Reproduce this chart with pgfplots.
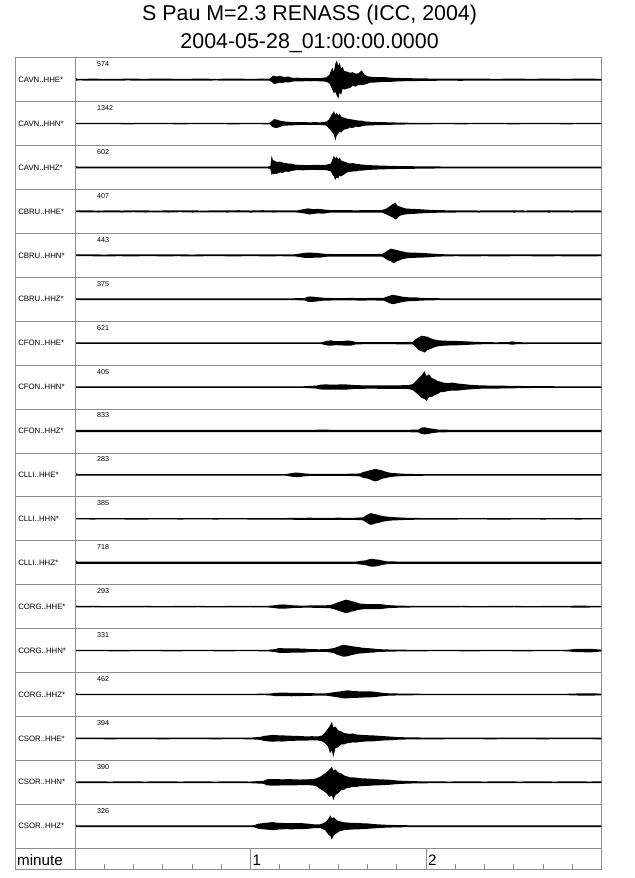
\documentclass[border=0pt]{standalone}
\usepackage{fontspec}
\setmainfont{Liberation Sans}
\usepackage{pgfplots}
\pgfplotsset{compat=1.18}
\usepackage{pgfplotstable}
\usepgfplotslibrary{fillbetween}

% t = time (s), u = upward half-amplitude (px), l = downward half-amplitude (px)
\pgfplotstableread[row sep=\\]{t u l\\
0 1.8 1.2\\ 1 0.8 0.8\\ 6 1.0 0.9\\ 12 0.8 1.0\\ 18 1.0 0.8\\ 24 0.9 1.0\\ 30 1.1 0.9\\ 36 0.8 0.9\\ 42 1.0 1.0\\ 48 0.9 0.8\\ 54 1.0 1.0\\ 60 0.9 0.9\\ 66.5 1.0 0.9\\
67.5 3.5 3\\ 68 4 4.5\\ 69 3.2 3.8\\ 70 3.8 3\\ 71 3 3.4\\ 72 2.8 2.5\\ 73 3.2 2.8\\ 74 2 2.2\\ 75 1.8 1.6\\ 76 2 1.8\\ 77.5 1.6 1.7\\ 79 1.8 1.5\\ 80.5 1.5 1.6\\ 82 1.7 1.5\\ 83.5 1.5 1.6\\ 85 2 1.8\\ 86 2.5 2.2\\
87 5 4\\ 87.5 9 7\\ 88 12 10\\ 88.5 8 14\\ 89 16 12\\ 89.5 19.5 16\\ 90 14 19\\ 90.5 17 13\\ 91 11 15\\ 91.5 13 9\\ 92 9 10\\ 93 8 9\\ 94 7 8.5\\ 95 7.5 6\\ 96 6 7\\ 97 6.5 5\\ 98 9.5 5.5\\ 99 5 5\\ 100 3.5 4\\ 101 3 3\\ 102 2.8 3\\ 104 2.5 2.5\\ 106 2.5 2.2\\ 108 2 2.2\\ 110 1.8 1.8\\ 113 1.6 1.5\\ 116 1.4 1.4\\ 120 1.2 1.2\\ 126 1.1 1\\ 132 1 1.1\\ 138 1 0.9\\ 144 0.9 1\\ 150 1 0.9\\ 156 0.9 0.9\\ 162 1 1\\ 168 0.9 0.9\\ 174 1 0.9\\ 180 0.9 1\\
}\tA
\pgfplotstableread[row sep=\\]{t u l\\
0 0.7 0.6\\ 6 0.6 0.6\\ 12 0.7 0.6\\ 18 0.6 0.7\\ 24 0.7 0.6\\ 30 0.6 0.6\\ 36 0.7 0.7\\ 42 0.6 0.6\\ 48 0.7 0.6\\ 54 0.6 0.7\\ 60 0.7 0.6\\ 66.5 0.7 0.7\\
67.5 3 3.5\\ 68 4.5 4\\ 69 4 4.5\\ 70 3 3.5\\ 71 2.5 2.2\\ 72 2 2\\ 74 1.6 1.8\\ 76 1.4 1.5\\ 78 1.5 1.3\\ 80 1.3 1.4\\ 82 1.4 1.3\\ 84 1.3 1.4\\ 86 2 2\\
86.8 4 5\\ 87.5 8 7\\ 88 10 9\\ 88.5 12.5 11\\ 89 9 17\\ 89.5 11 12\\ 90 8 10\\ 90.5 10 8\\ 91 7 9\\ 92 6 6\\ 93 5 5.5\\ 94 4.5 4\\ 95 4 4.5\\ 96 3.5 3\\ 97 3 3.5\\ 98 3 2.8\\ 99 2.2 2.2\\ 101 1.8 1.8\\ 103 1.6 1.6\\ 105 1.5 1.4\\ 108 1.2 1.2\\ 111 1 1\\ 115 0.8 0.8\\ 120 0.7 0.7\\ 126 0.7 0.6\\ 132 0.6 0.7\\ 138 0.7 0.6\\ 144 0.6 0.6\\ 150 0.7 0.7\\ 156 0.6 0.6\\ 162 0.7 0.6\\ 168 0.6 0.7\\ 174 0.7 0.6\\ 180 0.6 0.6\\
}\tB
\pgfplotstableread[row sep=\\]{t u l\\
0 1.5 1\\ 1 0.9 0.9\\ 6 1 0.9\\ 12 0.9 1\\ 18 1 0.9\\ 24 0.9 0.9\\ 30 1 1\\ 36 0.9 0.9\\ 42 1 0.9\\ 48 0.9 1\\ 54 1 0.9\\ 60 0.9 0.9\\ 66 1 1\\
66.8 1.5 1.5\\ 67.2 12 7.5\\ 67.6 8 6\\ 68 7 7\\ 68.5 6.5 6\\ 69 5.5 6.5\\ 70 6 5\\ 71 5 5.5\\ 72 4.5 4\\ 73 4 4.5\\ 74 4 3.5\\ 75 3 3\\ 76 2.8 2.6\\ 78 2.6 2.8\\ 80 2.4 2.5\\ 82 2.7 2.4\\ 84 2.5 2.6\\ 86 2.8 2.7\\ 87.5 4 4\\
88 8 7\\ 88.5 12 9\\ 89 9 12.5\\ 89.5 11 10\\ 90 8 11\\ 90.5 10 8\\ 91 7 9\\ 92 6 7\\ 93 5 5\\ 94 4 4.5\\ 95 4.5 4\\ 96 3.8 4\\ 97 3.5 3.2\\ 98 3 3.2\\ 100 2.6 2.5\\ 102 2.2 2.2\\ 104 2 1.9\\ 107 1.7 1.7\\ 110 1.5 1.5\\ 115 1.3 1.3\\ 120 1.1 1.1\\ 126 1 0.9\\ 132 0.9 1\\ 138 1 0.9\\ 144 0.9 0.9\\ 150 1 1\\ 156 0.9 0.9\\ 162 1 0.9\\ 168 0.9 1\\ 174 1 0.9\\ 180 0.9 0.9\\
}\tC
\pgfplotstableread[row sep=\\]{t u l\\
0 0.9 0.8\\ 4 1.1 0.9\\ 8 0.8 1.1\\ 12 1.1 0.9\\ 16 0.9 1.1\\ 20 1.1 0.8\\ 24 1 1.1\\ 28 0.8 1\\ 32 1.1 1.1\\ 36 1 0.8\\ 40 1.1 1.1\\ 44 0.8 1\\ 48 1.1 0.9\\ 52 1 1.1\\ 56 1.2 1\\ 60 0.9 1.1\\ 64 1.2 1\\ 68 1 1.1\\ 72 1.1 0.9\\ 76 1 1.1\\
78.5 2.5 2\\ 79.5 3 2.8\\ 80.5 2.8 3\\ 81.5 2.2 2.5\\ 83 2.6 2\\ 85 2 2.2\\ 87 1.4 1.3\\ 90 1.2 1.3\\ 93 1.3 1.1\\ 96 1.1 1.2\\ 99 1.3 1.1\\ 102 1.2 1.3\\ 105 1.4 1.3\\
106.5 3 3\\ 107.5 5 4.5\\ 108.5 7 6\\ 109.5 8.8 8\\ 110.2 6 7\\ 111 5 4.5\\ 112 4 3.5\\ 113 3 3\\ 114.5 2.7 2.5\\ 116 2.5 2.4\\ 118 2.2 2\\ 120 1.8 1.7\\ 123 1.4 1.4\\ 126 1.2 1.1\\ 130 1 1.1\\ 134 1.1 0.9\\ 138 0.9 1.1\\ 142 1.1 1\\ 146 1 0.9\\ 150 1.1 1.1\\ 154 0.9 1\\ 158 1.1 0.9\\ 162 1 1.1\\ 166 1.1 1\\ 170 0.9 1.1\\ 174 1.1 0.9\\ 178 1 1\\ 180 0.9 0.9\\
}\tD
\pgfplotstableread[row sep=\\]{t u l\\
0 0.9 0.8\\ 5 1 0.9\\ 10 0.8 1\\ 15 1 0.9\\ 20 0.9 1\\ 25 1 0.8\\ 30 0.9 1\\ 35 1 0.9\\ 40 0.8 1\\ 45 1 0.9\\ 50 0.9 0.9\\ 55 1 1\\ 60 0.9 0.8\\ 65 1 1\\ 70 0.9 0.9\\ 75 1 1\\
78.5 2.5 2.5\\ 80 2.8 2.7\\ 82 2.5 2.3\\ 84 2 2.2\\ 86 1.4 1.4\\ 90 1.2 1.2\\ 94 1.3 1.2\\ 98 1.2 1.3\\ 102 1.3 1.2\\ 105 1.5 1.4\\
106 3 3\\ 107 5 5\\ 108 6.8 6\\ 109 6 8\\ 110 5.5 6\\ 111 4.5 5\\ 112 4 3.8\\ 113.5 3 3\\ 115 2.7 2.6\\ 117 2.6 2.4\\ 119 2.3 2.2\\ 121 2 2\\ 123 1.5 1.4\\ 126 1.1 1.1\\ 130 1 0.9\\ 135 0.9 1\\ 140 1 0.9\\ 145 0.9 1\\ 150 1 0.9\\ 155 0.9 0.9\\ 160 1 1\\ 165 0.9 0.9\\ 170 1 1\\ 175 0.9 1\\ 180 1 0.9\\
}\tE
\pgfplotstableread[row sep=\\]{t u l\\
0 0.9 0.9\\ 5 1 0.8\\ 10 0.8 1\\ 15 1 0.9\\ 20 0.9 1\\ 25 1 0.9\\ 30 0.8 0.9\\ 35 1 1\\ 40 0.9 0.8\\ 45 1 1\\ 50 0.9 0.9\\ 55 1 0.9\\ 60 0.9 1\\ 65 1 0.9\\ 70 0.9 1\\ 75 1 0.9\\
78.5 1.2 1.2\\ 79.5 2.5 2.5\\ 80.5 2.8 2.6\\ 82 2.4 2.5\\ 84 1.8 1.6\\ 86 1.3 1.3\\ 90 1.2 1.2\\ 94 1.3 1.2\\ 98 1.2 1.3\\ 102 1.3 1.2\\ 105.5 1.4 1.4\\
106.5 2.5 2.5\\ 107.5 3.5 4\\ 108.5 4.4 5\\ 109.5 4 4.5\\ 110.5 3.5 3.8\\ 112 2.5 2.8\\ 114 2 2\\ 116 2 1.9\\ 118 1.5 1.4\\ 121 1.1 1.1\\ 125 1 0.9\\ 130 0.9 1\\ 135 1 0.9\\ 140 0.9 0.9\\ 145 1 1\\ 150 0.9 0.9\\ 155 1 0.9\\ 160 0.9 1\\ 165 1 0.9\\ 170 0.9 1\\ 175 1 0.9\\ 180 0.9 0.9\\
}\tF
\pgfplotstableread[row sep=\\]{t u l\\
0 0.8 0.7\\ 6 0.8 0.8\\ 12 0.7 0.8\\ 18 0.8 0.7\\ 24 0.8 0.8\\ 30 0.7 0.8\\ 36 0.8 0.7\\ 42 0.8 0.8\\ 48 0.7 0.7\\ 54 0.8 0.8\\ 60 0.7 0.8\\ 66 0.8 0.7\\ 72 0.8 0.8\\ 78 0.7 0.8\\ 84 0.8 0.8\\
86.5 2.5 2.5\\ 87.5 2.8 2.6\\ 89 2 2\\ 91 2 2.2\\ 93 2.7 2.6\\ 94.5 2.3 2.4\\ 96 1.2 1.2\\ 100 1 1\\ 105 1.1 1\\ 110 1 1.1\\ 115.5 1.3 1.3\\
116.5 4 4\\ 117.5 6 7\\ 118.5 7.5 8\\ 119.5 7 9.5\\ 120.5 6.5 7\\ 121.5 5 6\\ 122.5 4 4.5\\ 124 3 3.2\\ 126 2.5 2.6\\ 128 2.4 2.3\\ 130 2.3 2.2\\ 132 2 2\\ 134 1.8 1.7\\ 137 1.3 1.3\\ 140 1 1\\ 144 0.9 0.9\\ 148 1 1\\ 149.5 1.8 1.6\\ 151 1 1\\ 156 0.8 0.8\\ 162 0.7 0.8\\ 168 0.8 0.7\\ 174 0.8 0.8\\ 180 0.7 0.7\\
}\tG
\pgfplotstableread[row sep=\\]{t u l\\
0 0.8 0.8\\ 6 0.7 0.8\\ 12 0.8 0.7\\ 18 0.8 0.8\\ 24 0.7 0.8\\ 30 0.8 0.7\\ 36 0.8 0.8\\ 42 0.7 0.7\\ 48 0.8 0.8\\ 54 0.8 0.7\\ 60 0.7 0.8\\ 66 0.8 0.8\\ 72 0.8 0.7\\ 78 0.8 0.8\\
82.5 1.5 1.5\\ 84 2.5 2.4\\ 86 2.7 2.6\\ 88 2.4 2.5\\ 90 2.6 2.5\\ 92 2.8 2.7\\ 94 2.4 2.3\\ 96 2 1.9\\ 99 1.7 1.7\\ 102 1.8 1.6\\ 105 1.7 1.8\\ 108 1.6 1.7\\ 111 1.8 1.7\\ 114 2 2\\
115.5 3 3\\ 116.5 6 5.5\\ 117.5 9 8\\ 118.5 12 11\\ 119.5 16 12\\ 120.2 11 14\\ 121 13 10\\ 122 9 10\\ 123 8 8\\ 124 6 7\\ 125 5.5 5\\ 126 4.5 5\\ 127.5 4 4\\ 129 4.5 3.5\\ 131 3.5 3.5\\ 133 3 2.8\\ 135 2.3 2.3\\ 138 1.8 1.7\\ 142 1.5 1.6\\ 146 1.4 1.4\\ 150 1.2 1.2\\ 155 1 1\\ 160 0.9 0.8\\ 166 0.8 0.8\\ 172 0.7 0.8\\ 180 0.8 0.7\\
}\tH
\pgfplotstableread[row sep=\\]{t u l\\
0 1.2 1.1\\ 6 1.2 1.2\\ 12 1.1 1.2\\ 18 1.2 1.1\\ 24 1.2 1.2\\ 30 1.1 1.2\\ 36 1.2 1.1\\ 42 1.2 1.2\\ 48 1.1 1.1\\ 54 1.2 1.2\\ 60 1.1 1.2\\ 66 1.2 1.1\\ 72 1.2 1.2\\ 78 1.1 1.2\\ 84 1.3 1.2\\ 90 1.2 1.2\\ 96 1.2 1.1\\ 102 1.2 1.2\\ 108 1.1 1.2\\ 114 1.2 1.2\\
117.5 1.5 1.5\\ 118.5 3.4 3\\ 119.5 3.8 3.4\\ 120.5 3 3.2\\ 122 2.4 2.2\\ 124 1.5 1.5\\ 128 1.2 1.2\\ 134 1.1 1.2\\ 140 1.2 1.1\\ 146 1.2 1.2\\ 152 1.1 1.2\\ 158 1.2 1.1\\ 164 1.2 1.2\\ 170 1.1 1.2\\ 176 1.2 1.1\\ 180 1.2 1.2\\
}\tI
\pgfplotstableread[row sep=\\]{t u l\\
0 2 0.8\\ 1 0.8 0.8\\ 6 0.7 0.8\\ 12 0.8 0.7\\ 18 0.8 0.8\\ 24 0.7 0.8\\ 30 0.8 0.7\\ 36 0.8 0.8\\ 42 0.7 0.7\\ 48 0.8 0.8\\ 54 0.8 0.7\\ 60 0.7 0.8\\ 66 0.8 0.8\\ 72 0.8 0.7\\
74.5 2 2\\ 75.5 2.4 2.2\\ 77 2 2\\ 78.5 1.5 1.4\\ 80 1.1 1.1\\ 85 1 1\\ 90 1.1 1\\ 95 1.2 1.1\\ 97.5 1.5 1.5\\
98.5 3 3\\ 99.5 3.5 3.5\\ 100.5 4.5 4\\ 101.5 5 5.5\\ 102.5 6 6.5\\ 103.5 5.5 6\\ 104.5 5 4.5\\ 105.5 4 3.5\\ 106.5 3 3\\ 108 2 2\\ 110 1.6 1.5\\ 112 1.2 1.2\\ 116 0.9 0.9\\ 122 0.8 0.8\\ 128 0.7 0.8\\ 134 0.8 0.7\\ 140 0.8 0.8\\ 146 0.7 0.8\\ 152 0.8 0.7\\ 158 0.8 0.8\\ 164 0.7 0.7\\ 170 0.8 0.8\\ 176 0.8 0.7\\ 180 0.7 0.8\\
}\tJ
\pgfplotstableread[row sep=\\]{t u l\\
0 0.7 0.6\\ 6 0.6 0.7\\ 12 0.7 0.6\\ 18 0.7 0.7\\ 24 0.6 0.7\\ 30 0.7 0.6\\ 36 0.7 0.7\\ 42 0.6 0.6\\ 48 0.7 0.7\\ 54 0.7 0.6\\ 60 0.6 0.7\\ 66 0.7 0.7\\ 72 0.8 0.8\\
76 1 1\\ 80 1.1 1\\ 85 1 1.1\\ 90 1.1 1\\ 95 1 1\\ 98.5 1.5 1.5\\ 99.5 3.5 3.5\\ 100.5 5 5.5\\ 101.2 5.8 6\\ 102 5 5.5\\ 103 4.5 4.5\\ 104 3.5 4\\ 105 3 3\\ 106 2.5 2.5\\ 107.5 2 1.8\\ 110 1.5 1.5\\ 113 1.1 1.1\\ 118 0.8 0.8\\ 124 0.7 0.7\\ 130 0.6 0.7\\ 136 0.7 0.6\\ 142 0.7 0.7\\ 148 0.6 0.7\\ 154 0.7 0.6\\ 160 0.7 0.7\\ 166 0.6 0.6\\ 172 0.7 0.7\\ 180 0.7 0.6\\
}\tK
\pgfplotstableread[row sep=\\]{t u l\\
0 5 1.2\\ 0.6 1.2 1.2\\ 6 1.2 1.1\\ 12 1.1 1.2\\ 18 1.2 1.2\\ 24 1.2 1.1\\ 30 1.1 1.2\\ 36 1.2 1.2\\ 42 1.2 1.1\\ 48 1.1 1.2\\ 54 1.2 1.2\\ 60 1.2 1.1\\ 66 1.1 1.2\\ 72 1.2 1.2\\ 78 1.2 1.1\\ 84 1.1 1.2\\ 90 1.2 1.2\\ 96 1.2 1.2\\
99.5 2.5 2.5\\ 100.5 3.5 3.5\\ 101.5 4 4\\ 102.5 3.5 3.8\\ 104 3 3\\ 105.5 2 2\\ 107 1.3 1.3\\ 112 1.2 1.2\\ 118 1.1 1.2\\ 124 1.2 1.1\\ 130 1.2 1.2\\ 136 1.1 1.2\\ 142 1.2 1.1\\ 148 1.2 1.2\\ 154 1.1 1.2\\ 160 1.2 1.2\\ 166 1.2 1.1\\ 172 1.1 1.2\\ 180 1.2 1.2\\
}\tL
\pgfplotstableread[row sep=\\]{t u l\\
0 1.5 0.7\\ 1 0.7 0.7\\ 6 0.7 0.6\\ 12 0.6 0.7\\ 18 0.7 0.7\\ 24 0.7 0.6\\ 30 0.6 0.7\\ 36 0.7 0.7\\ 42 0.7 0.6\\ 48 0.6 0.7\\ 54 0.7 0.7\\ 60 0.7 0.6\\ 66 0.8 0.8\\
68.5 1.5 1.5\\ 69.5 2 2\\ 71 2.2 2.1\\ 73 1.8 1.8\\ 75 1.2 1.2\\ 78 1.1 1.1\\ 81 1.2 1.1\\ 84 1.2 1.3\\ 87 1.5 1.5\\
88.5 2.5 2.5\\ 89.5 4 3.5\\ 90.5 5 4.5\\ 91.5 6 5.5\\ 92.5 7 6.5\\ 93.5 6.5 6\\ 94.5 5.5 5\\ 95.5 5 4.5\\ 96.5 4 3.5\\ 97.5 3 3\\ 99 2.7 2.5\\ 101 2.5 2.4\\ 103 2.7 2.5\\ 105 2.4 2.3\\ 107 1.6 1.5\\ 109 1.2 1.2\\ 113 0.9 0.9\\ 120 0.8 0.7\\ 126 0.7 0.7\\ 132 0.7 0.6\\ 138 0.6 0.7\\ 144 0.7 0.7\\ 150 0.7 0.6\\ 156 0.6 0.7\\ 162 0.7 0.7\\ 168 0.7 0.7\\ 172 1.1 1.1\\ 175 0.9 0.9\\ 180 0.7 0.7\\
}\tM
\pgfplotstableread[row sep=\\]{t u l\\
0 0.7 0.7\\ 6 0.7 0.6\\ 12 0.6 0.7\\ 18 0.7 0.7\\ 24 0.7 0.6\\ 30 0.6 0.7\\ 36 0.7 0.7\\ 42 0.7 0.6\\ 48 0.6 0.7\\ 54 0.7 0.7\\ 60 0.7 0.6\\ 66 0.8 0.8\\
68.5 1.5 1.5\\ 69.5 2.4 2.2\\ 72 2.3 2.4\\ 75 2.2 2\\ 78 2 2.1\\ 80.5 1.5 1.5\\ 83 1.3 1.3\\ 86 1.4 1.4\\
88.5 2.5 2.5\\ 89.5 3.5 4\\ 90.5 4.5 5\\ 91.5 5.8 6\\ 92.5 5.5 6\\ 93.5 5 5.5\\ 94.5 4.5 4.5\\ 95.5 4 4\\ 97 3.5 3\\ 98.5 2.7 2.7\\ 100 2.5 2.3\\ 102 2 2\\ 104 1.4 1.4\\ 108 1 1\\ 114 0.8 0.8\\ 120 0.7 0.7\\ 126 0.7 0.6\\ 132 0.6 0.7\\ 138 0.7 0.7\\ 144 0.7 0.6\\ 150 0.6 0.7\\ 156 0.7 0.7\\ 162 0.7 0.6\\ 168 0.7 0.7\\ 171.5 1.7 1.6\\ 174 1.8 1.7\\ 177 1.6 1.7\\ 179 1.2 1.2\\ 180 1 1\\
}\tN
\pgfplotstableread[row sep=\\]{t u l\\
0 1.5 0.7\\ 1 0.7 0.7\\ 6 0.7 0.6\\ 12 0.6 0.7\\ 18 0.7 0.7\\ 24 0.7 0.6\\ 30 0.6 0.7\\ 36 0.7 0.7\\ 42 0.7 0.6\\ 48 0.6 0.7\\ 54 0.7 0.7\\ 60 0.7 0.6\\ 66 0.8 0.8\\
67.5 1.2 1.2\\ 68.5 1.7 1.7\\ 71 1.8 1.6\\ 74 1.7 1.8\\ 77 1.6 1.6\\ 80 1.4 1.4\\ 83 1.1 1.1\\ 86 1.2 1.2\\
89 2.5 2.5\\ 90.5 3 3.2\\ 92 3.8 4\\ 93.5 4.2 3.8\\ 95 3.5 3.5\\ 97 3.2 3.3\\ 99 3 3\\ 101 3.2 3\\ 103 2.5 2.4\\ 106 1.4 1.4\\ 108 1.1 1.1\\ 114 0.8 0.8\\ 120 0.7 0.7\\ 126 0.7 0.6\\ 132 0.6 0.7\\ 138 0.7 0.7\\ 144 0.7 0.6\\ 150 0.6 0.7\\ 156 0.7 0.7\\ 162 0.7 0.6\\ 168 0.7 0.7\\ 174 1.2 1.2\\ 177 1.2 1.1\\ 180 0.8 0.8\\
}\tO
\pgfplotstableread[row sep=\\]{t u l\\
0 0.8 0.8\\ 6 0.9 0.8\\ 12 0.8 0.9\\ 18 0.9 0.8\\ 24 0.8 0.8\\ 30 0.9 0.9\\ 36 0.8 0.8\\ 42 0.9 0.8\\ 48 0.8 0.9\\ 54 0.9 0.8\\ 60 0.8 0.9\\
63.5 1.5 1.5\\ 64.5 2.5 2.5\\ 66 3 3\\ 67.5 3.5 3.4\\ 69 3.2 3\\ 71 3 3.2\\ 73 2.8 2.6\\ 75 2.5 2.4\\ 77 2.4 2.2\\ 79 2 2.2\\ 81 2.2 2\\ 83 2 2.1\\
84.5 3 3\\ 85.5 6 5\\ 86.5 10 8\\ 87.2 13 15\\ 87.8 17 12\\ 88.3 11 19\\ 89 12 10\\ 90 8 9\\ 91 7 6\\ 92 5.5 6\\ 93 5 5\\ 94 4.5 4.5\\ 95 5 4\\ 96 4 4.2\\ 98 3.5 3.5\\ 100 3.2 3\\ 102 3 3\\ 104 2.6 2.4\\ 106 2.2 2\\ 108 1.8 1.8\\ 110 1.4 1.4\\ 113 1.1 1.1\\ 118 0.9 0.9\\ 124 0.8 0.9\\ 130 0.9 0.8\\ 136 0.8 0.8\\ 142 0.9 0.9\\ 148 0.8 0.8\\ 154 0.9 0.8\\ 160 0.8 0.9\\ 166 0.9 0.8\\ 172 0.8 0.8\\ 180 0.9 0.9\\
}\tP
\pgfplotstableread[row sep=\\]{t u l\\
0 0.8 0.8\\ 6 0.9 0.8\\ 12 0.8 0.9\\ 18 0.9 0.8\\ 24 0.8 0.8\\ 30 0.9 0.9\\ 36 0.8 0.8\\ 42 0.9 0.8\\ 48 0.8 0.9\\ 54 0.9 0.8\\ 60 0.8 0.9\\
64.5 1.5 1.5\\ 65.5 3 3\\ 67 3.4 3.3\\ 69 3.2 3.4\\ 71 3 3\\ 73 3.2 3\\ 75 3 3.1\\ 77 2.8 2.8\\ 79 3 2.9\\ 81 3.2 3\\
82.5 4 4\\ 84 6 7\\ 85 8 9\\ 86 10 11\\ 87 13 15\\ 87.8 15.6 13\\ 88.3 12 18\\ 89 13 13\\ 90 10 11\\ 91 9 8\\ 92 7 7.5\\ 93 6 5.5\\ 94 5 5.5\\ 95 5 4.5\\ 96.5 4.5 4.5\\ 98 4 3.8\\ 100 3.8 3.6\\ 102 3.4 3.2\\ 104 3 3\\ 106 2.8 2.7\\ 108 2.5 2.4\\ 110 1.8 1.8\\ 113 1.4 1.4\\ 116 1.1 1.1\\ 122 0.9 0.9\\ 128 0.8 0.9\\ 134 0.9 0.8\\ 140 0.8 0.8\\ 146 0.9 0.9\\ 152 0.8 0.8\\ 158 0.9 0.8\\ 164 0.8 0.9\\ 170 0.9 0.8\\ 176 0.8 0.8\\ 180 0.9 0.9\\
}\tQ
\pgfplotstableread[row sep=\\]{t u l\\
0 3 1\\ 0.6 0.8 0.8\\ 6 0.9 0.8\\ 12 0.8 0.9\\ 18 0.9 0.8\\ 24 0.8 0.8\\ 30 0.9 0.9\\ 36 0.8 0.8\\ 42 0.9 0.8\\ 48 0.8 0.9\\ 54 0.9 0.8\\ 60 0.8 0.9\\
61.5 1.2 1.2\\ 62.5 2.5 2.5\\ 64 3 3\\ 65.5 3.5 3.4\\ 67 4 3.8\\ 67.7 4.2 4\\ 68.5 3.6 3.8\\ 70 3.4 3.2\\ 72 3.2 3\\ 74 3 3.1\\ 76 3.2 3\\ 78 3 2.8\\ 80 2.5 2.5\\ 82 1.8 1.8\\ 84 2 2\\
85.5 4 4\\ 86.5 7 8\\ 87.3 11 10\\ 87.8 8 13.5\\ 88.5 9 9\\ 89.5 6 7\\ 90.5 5 5\\ 92 4 4\\ 94 3.5 3.4\\ 96 3.4 3.2\\ 98 3 3\\ 100 2.8 2.6\\ 103 2 2\\ 106 1.5 1.5\\ 110 1.1 1.1\\ 116 0.9 0.9\\ 122 0.8 0.9\\ 128 0.9 0.8\\ 134 0.8 0.8\\ 140 0.9 0.9\\ 146 0.8 0.8\\ 152 0.9 0.8\\ 158 0.8 0.9\\ 164 0.9 0.8\\ 170 0.8 0.8\\ 176 0.9 0.9\\ 180 0.8 0.8\\
}\tR

% #1 table, #2 row index, #3 station label, #4 scale number
\newcommand{\trace}[4]{%
  \addplot[name path=u#2, draw=none] table[x=t, y expr={\thisrow{u}-22.16-44.32*#2}] {#1};
  \addplot[name path=l#2, draw=none] table[x=t, y expr={-\thisrow{l}-22.16-44.32*#2}] {#1};
  \addplot[fill=black, draw=none] fill between[of=u#2 and l#2];
  \node[anchor=west, inner sep=0pt, font=\fontsize{5.9}{7}\selectfont] at (axis cs:-19.5,{-22.16-44.32*#2}) {#3};
  \node[anchor=west, inner sep=0pt, font=\fontsize{5.4}{6}\selectfont] at (axis cs:7.5,{-6.5-44.32*#2}) {#4};
}

\begin{document}
\begin{tikzpicture}
\begin{axis}[
  scale only axis, width=443.25pt, height=614pt,
  xmin=-20.24, xmax=180, ymin=-818.7, ymax=0,
  clip=false,
  axis line style={black!45, line width=0.6pt},
  xtick={60,120},
  minor xtick={10,20,30,40,50,70,80,90,100,110,130,140,150,160,170},
  xticklabels={}, ytick=\empty,
  xtick pos=lower, tick align=inside,
  major tick length=15.7pt, minor tick length=3.75pt,
  tick style={black!45, line width=0.6pt},
  minor tick style={black!45, line width=0.6pt},
]
\pgfplotsinvokeforeach{1,...,18}{
  \draw[black!45, line width=0.6pt] (axis cs:-20.24,{-44.32*#1}) -- (axis cs:180,{-44.32*#1});
}
\draw[black!45, line width=0.6pt] (axis cs:0,0) -- (axis cs:0,-818.7);

\trace{\tA}{0}{CAVN..HHE*}{574}
\trace{\tB}{1}{CAVN..HHN*}{1342}
\trace{\tC}{2}{CAVN..HHZ*}{602}
\trace{\tD}{3}{CBRU..HHE*}{407}
\trace{\tE}{4}{CBRU..HHN*}{443}
\trace{\tF}{5}{CBRU..HHZ*}{375}
\trace{\tG}{6}{CFON..HHE*}{621}
\trace{\tH}{7}{CFON..HHN*}{405}
\trace{\tI}{8}{CFON..HHZ*}{833}
\trace{\tJ}{9}{CLLI..HHE*}{283}
\trace{\tK}{10}{CLLI..HHN*}{385}
\trace{\tL}{11}{CLLI..HHZ*}{718}
\trace{\tM}{12}{CORG..HHE*}{293}
\trace{\tN}{13}{CORG..HHN*}{331}
\trace{\tO}{14}{CORG..HHZ*}{462}
\trace{\tP}{15}{CSOR..HHE*}{394}
\trace{\tQ}{16}{CSOR..HHN*}{390}
\trace{\tR}{17}{CSOR..HHZ*}{326}

\node[anchor=base west, inner sep=0pt, font=\fontsize{11.5}{13}\selectfont] at (axis cs:-19.9,-815.7) {minute};
\node[anchor=base west, inner sep=0pt, font=\fontsize{11.5}{13}\selectfont] at (axis cs:60.6,-815.7) {1};
\node[anchor=base west, inner sep=0pt, font=\fontsize{11.5}{13}\selectfont] at (axis cs:120.6,-815.7) {2};
\end{axis}
\node[anchor=base, inner sep=0pt, font=\fontsize{16.2}{19}\selectfont] at ([xshift=0.7pt,yshift=27.8pt]current axis.north) {S Pau M=2.3 RENASS (ICC, 2004)};
\node[anchor=base, inner sep=0pt, font=\fontsize{16.2}{19}\selectfont] at ([xshift=0.7pt,yshift=7.3pt]current axis.north) {2004-05-28\_01:00:00.0000};
\path ([shift={(-12pt,-0.75pt)}]current axis.south west) rectangle ([shift={(25pt,43.7pt)}]current axis.north east);
\end{tikzpicture}
\end{document}
